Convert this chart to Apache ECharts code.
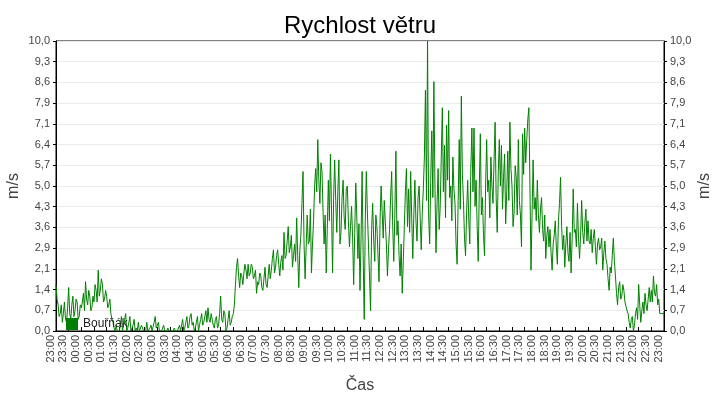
<!DOCTYPE html>
<html>
<head>
<meta charset="utf-8">
<script src="https://cdn.jsdelivr.net/npm/echarts@6.0.0/dist/echarts.min.js"></script>
<style>
html,body{margin:0;padding:0;background:#fff;}
#chart{width:720px;height:400px;}
</style>
</head>
<body>
<div id="chart"></div>
<script>
// Wind speed (m/s), one value every 2.5 minutes, starting 23:00 (12 values per half hour)
const wind_2300_0300 = [
  1.6, 1.1, 0.9, 0.5, 0.6, 0.9, 0.3, 0.6, 1.0, 0.4, 0.3, 0.8,
  1.5, 0.6, 0.4, 0.9, 1.2, 0.5, 0.7, 1.1, 1.0, 0.4, 0.5, 0.9,
  0.8, 1.0, 1.3, 0.7, 1.7, 1.1, 0.9, 1.4, 1.2, 0.7, 0.8, 1.2,
  1.0, 1.6, 1.4, 1.0, 2.1, 1.2, 1.4, 1.8, 1.6, 1.0, 1.1, 1.4,
  1.2, 0.8, 0.9, 1.1, 0.6, 0.4, 0.3, 0.1, 0.0, 0.2, 0.0, 0.0,
  0.0, 0.2, 0.5, 0.0, 0.2, 0.4, 0.6, 0.0, 0.1, 0.3, 0.5, 0.0,
  0.0, 0.2, 0.4, 0.0, 0.1, 0.0, 0.3, 0.0, 0.0, 0.2, 0.2, 0.0,
  0.0, 0.0, 0.3, 0.0, 0.0, 0.1, 0.2, 0.0, 0.0, 0.3, 0.5, 0.1
];
const wind_0300_0700 = [
  0.1, 0.3, 0.0, 0.0, 0.0, 0.1, 0.2, 0.0, 0.0, 0.0, 0.1, 0.0,
  0.0, 0.0, 0.0, 0.0, 0.1, 0.0, 0.0, 0.0, 0.0, 0.2, 0.0, 0.0,
  0.4, 0.0, 0.1, 0.3, 0.5, 0.1, 0.2, 0.5, 0.6, 0.2, 0.3, 0.0,
  0.1, 0.3, 0.5, 0.0, 0.2, 0.4, 0.6, 0.2, 0.3, 0.5, 0.7, 0.3,
  0.8, 0.4, 0.3, 0.6, 0.6, 0.2, 0.1, 0.4, 0.5, 0.1, 0.2, 0.6,
  1.2, 0.4, 0.3, 0.7, 0.6, 0.0, 0.1, 0.4, 0.7, 0.2, 0.3, 0.5,
  0.6, 0.9, 1.6, 2.2, 2.5, 1.9, 1.5, 2.0, 1.9, 1.6, 2.0, 2.3,
  2.1, 1.8, 2.3, 1.9, 2.0, 2.3, 2.2, 1.8, 1.9, 2.1, 1.3, 1.7
];
const wind_0700_1100 = [
  1.6, 2.0, 1.9, 1.5, 1.4, 1.8, 2.2, 1.6, 1.5, 1.9, 2.3, 1.8,
  2.1, 2.5, 2.8, 2.0, 2.2, 2.6, 2.8, 2.3, 1.9, 2.4, 2.6, 2.1,
  3.4, 2.5, 2.6, 3.1, 3.6, 2.7, 2.9, 3.3, 2.2, 2.6, 3.0, 2.4,
  3.9, 2.6, 1.5, 2.8, 3.3, 4.4, 5.5, 3.0, 1.8, 2.9, 4.0, 3.0,
  3.1, 4.2, 2.0, 3.0, 3.8, 5.0, 5.6, 4.8, 6.6, 5.2, 4.4, 5.8,
  5.5, 4.1, 3.0, 4.0, 2.0, 3.5, 5.2, 3.8, 6.1, 4.2, 2.0, 4.6,
  5.9, 4.5, 3.4, 4.8, 5.9, 3.0, 3.4, 4.6, 5.2, 3.9, 3.5, 4.9,
  5.0, 3.8, 2.9, 3.6, 4.3, 3.2, 1.6, 3.4, 5.1, 3.9, 2.5, 3.7
];
const wind_1100_1500 = [
  1.4, 3.2, 5.5, 2.6, 0.4, 3.8, 5.5, 4.1, 3.0, 1.9, 0.7, 3.5,
  4.4, 3.1, 2.4, 4.0, 3.6, 2.7, 1.7, 3.8, 5.0, 4.1, 3.2, 4.5,
  4.5, 3.0, 1.9, 2.8, 3.5, 4.6, 5.5, 3.6, 2.4, 4.0, 6.2, 3.3,
  3.8, 2.6, 1.9, 3.0, 1.3, 2.4, 3.6, 4.8, 5.6, 3.6, 4.9, 3.4,
  5.5, 3.9, 2.5, 4.0, 5.2, 3.8, 3.1, 4.6, 5.0, 3.9, 2.8, 4.1,
  4.9, 6.0, 8.3, 4.5, 10.0, 4.0, 3.0, 5.2, 6.9, 4.6, 8.6, 5.0,
  2.7, 4.4, 5.6, 3.5, 4.3, 6.0, 7.7, 4.8, 6.4, 3.9, 7.1, 5.2,
  7.6, 4.6, 5.0, 3.8, 6.0, 4.9, 4.4, 3.0, 2.3, 4.5, 6.6, 4.2
];
const wind_1500_1900 = [
  8.1, 5.4, 4.5, 3.2, 2.6, 4.1, 5.2, 3.9, 3.0, 5.6, 7.0, 4.8,
  7.0, 4.3, 5.2, 3.6, 2.4, 4.9, 6.8, 4.0, 4.6, 3.3, 2.6, 5.0,
  6.6, 4.8, 5.2, 3.9, 6.0, 5.0, 4.4, 5.9, 7.2, 4.6, 3.4, 5.5,
  6.6, 5.0, 6.4, 4.2, 5.3, 6.1, 3.7, 4.8, 6.2, 4.5, 7.2, 5.6,
  5.0, 3.6, 4.1, 5.7, 5.3, 4.0, 6.6, 4.5, 4.0, 2.9, 6.8, 5.4,
  7.0, 5.8, 6.6, 7.3, 7.7, 5.0, 2.1, 4.0, 5.9, 4.2, 4.6, 3.8,
  5.2, 4.0, 3.4, 4.2, 4.6, 3.5, 3.1, 4.0, 2.5, 3.3, 3.6, 2.9,
  3.5, 2.7, 2.1, 3.0, 3.3, 3.8, 2.9, 2.3, 3.8, 4.4, 5.3, 3.6
];
const wind_1900_2300 = [
  2.8, 3.3, 2.2, 3.0, 3.6, 2.7, 2.4, 3.4, 2.0, 3.2, 4.9, 3.4,
  3.5, 2.9, 4.4, 3.2, 2.5, 3.3, 4.5, 3.4, 3.0, 3.7, 4.2, 3.1,
  3.8, 3.1, 3.0, 3.5, 2.7, 3.2, 3.5, 2.9, 2.3, 3.0, 3.2, 2.8,
  2.9, 3.2, 2.1, 2.7, 3.1, 2.5, 2.3, 1.8, 1.4, 2.2, 2.0, 2.6,
  3.2, 2.4, 1.9, 1.3, 0.9, 1.5, 1.7, 1.1, 1.2, 1.6, 1.4, 1.0,
  1.0, 0.7, 0.6, 0.3, 0.1, 0.4, 0.5, 0.0, 0.2, 0.6, 0.8, 0.4,
  1.6, 0.9, 0.3, 0.7, 1.0, 0.6, 1.3, 0.9, 0.7, 1.1, 1.5, 1.0,
  1.4, 1.0, 1.9, 1.3, 1.2, 1.6, 0.9, 1.1, 0.6, 0.6, 0.6, 0.6
];
const wind_final = [0.6];

const xTickLabels = [
  '23:00','23:30','00:00','00:30','01:00','01:30','02:00','02:30','03:00','03:30',
  '04:00','04:30','05:00','05:30','06:00','06:30','07:00','07:30','08:00','08:30',
  '09:00','09:30','10:00','10:30','11:00','11:30','12:00','12:30','13:00','13:30',
  '14:00','14:30','15:00','15:30','16:00','16:30','17:00','17:30','18:00','18:30',
  '19:00','19:30','20:00','20:30','21:00','21:30','22:00','22:30','23:00'
];
const seriesName = 'Bouřňák';
const unitName = 'm/s';
const stepMinutes = 2.5;

const values = [].concat(wind_2300_0300, wind_0300_0700, wind_0700_1100,
  wind_1100_1500, wind_1500_1900, wind_1900_2300, wind_final);
const seriesData = values.map((v, i) => [i * stepMinutes, v]);

const yFmt = v => (Math.round(v * 10) / 10).toFixed(1).replace('.', ',');
const font = 'Arial, "Liberation Sans", sans-serif';

const yAxisBase = {
  type: 'value', min: 0, max: 10, interval: 10 / 14,
  axisLine: { show: true, lineStyle: { color: '#000', width: 1 } },
  axisTick: { show: true, length: 3, lineStyle: { color: '#000' } },
  axisLabel: { fontSize: 11, color: '#444', fontFamily: font, margin: 6, formatter: yFmt },
};

const unitText = x => ({
  type: 'text', x: x, y: 186, rotation: Math.PI / 2, silent: true,
  style: { text: unitName, fontSize: 16, fill: '#444', fontFamily: font,
           align: 'center', verticalAlign: 'middle' }
});

const chart = echarts.init(document.getElementById('chart'), null, { renderer: 'canvas' });
chart.setOption({
  animation: false,
  backgroundColor: '#fff',
  title: {
    text: 'Rychlost větru', left: 'center', top: 9,
    textStyle: { fontSize: 24, fontWeight: 'normal', color: '#000', fontFamily: font }
  },
  legend: {
    left: 61, top: 313, icon: 'rect', itemWidth: 12, itemHeight: 12,
    textStyle: { fontSize: 12, color: '#222', fontFamily: font },
    data: [seriesName]
  },
  graphic: [unitText(14), unitText(705)],
  grid: {
    left: 56, right: 56, top: 41, bottom: 69, show: true,
    borderColor: '#000', borderWidth: 1,
    containLabel: false, outerBoundsMode: 'none'
  },
  xAxis: {
    type: 'value', min: 0, max: 1440, interval: 30,
    name: 'Čas', nameLocation: 'middle', nameGap: 47,
    nameTextStyle: { fontSize: 16, color: '#444', fontFamily: font },
    axisLine: { show: true, onZero: false, lineStyle: { color: '#000' } },
    axisTick: { show: true, inside: true, length: 4, lineStyle: { color: '#000' } },
    splitLine: { show: false },
    axisLabel: {
      rotate: 90, fontSize: 11, color: '#444', fontFamily: font, margin: 4,
      verticalAlign: 'bottom',
      formatter: v => xTickLabels[Math.round(v / 30)]
    }
  },
  yAxis: [
    Object.assign({}, yAxisBase, {
      position: 'left',
      splitLine: { show: true, lineStyle: { color: '#ebebeb', width: 1 } }
    }),
    Object.assign({}, yAxisBase, {
      position: 'right',
      splitLine: { show: false }
    })
  ],
  series: [{
    name: seriesName, type: 'line', data: seriesData, yAxisIndex: 0,
    showSymbol: false, symbol: 'none',
    lineStyle: { color: '#008000', width: 1 },
    itemStyle: { color: '#008000' }
  }]
});
</script>
</body>
</html>
